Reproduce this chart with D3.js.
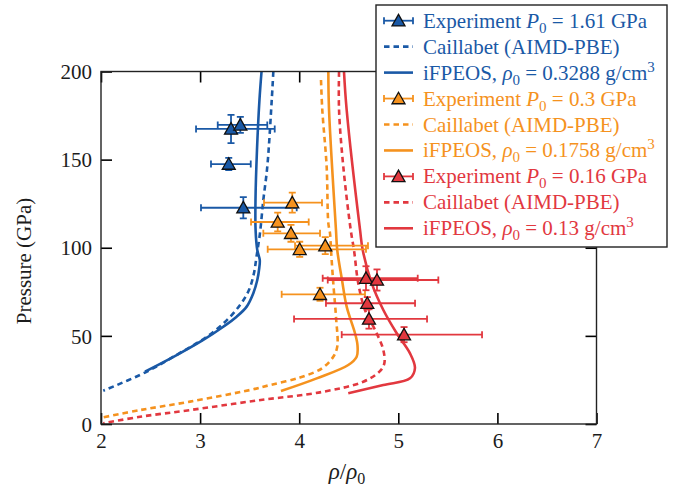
<!DOCTYPE html>
<html><head><meta charset="utf-8">
<script src="https://cdn.jsdelivr.net/npm/d3@7"></script>
<style>body{margin:0;background:#fff}svg{display:block;font-family:"Liberation Serif",serif}</style>
</head><body><svg id="c" width="680" height="489"></svg>
<script>
// ---- data ----
const xTicks = [2,3,4,5,6,7];
const yTicks = [0,50,100,150,200];
const seriesNames = ["blue","orange","red"];
const colors = ["#1a59a6","#f5921e","#e2383f"];
const legendLabels = [
  ["Experiment ", {i:"P"}, {sub:"0"}, " = 1.61 GPa"],
  ["Caillabet (AIMD-PBE)"],
  ["iFPEOS, ", {i:"ρ"}, {sub:"0"}, " = 0.3288 g/cm", {sup:"3"}],
  ["Experiment ", {i:"P"}, {sub:"0"}, " = 0.3 GPa"],
  ["Caillabet (AIMD-PBE)"],
  ["iFPEOS, ", {i:"ρ"}, {sub:"0"}, " = 0.1758 g/cm", {sup:"3"}],
  ["Experiment ", {i:"P"}, {sub:"0"}, " = 0.16 GPa"],
  ["Caillabet (AIMD-PBE)"],
  ["iFPEOS, ", {i:"ρ"}, {sub:"0"}, " = 0.13 g/cm", {sup:"3"}]
];
// experiments: x, y, xLow, xHigh, yErr
const expBlueX = [3.312,3.406,3.289,3.436];
const expBlueY = [167.4,169.7,147.5,122.7];
const expBlueXlo = [2.959,3.178,3.110,3.009];
const expBlueXhi = [3.753,3.678,3.511,3.975];
const expBlueYerr = [8,4.5,3.5,6];
const expOrangeX = [3.930,3.783,3.917,4.005,4.263,4.210];
const expOrangeY = [125.6,114.6,108.2,99.1,101.2,73.6];
const expOrangeXlo = [3.645,3.514,3.638,3.682,3.958,3.823];
const expOrangeXhi = [4.230,4.096,4.210,4.674,4.694,4.664];
const expOrangeYerr = [5.7,5.3,4.8,4.3,4.8,3.7];
const expRedX = [4.674,4.785,4.687,4.704,5.058];
const expRedY = [82.7,81.7,68.5,59.6,50.7];
const expRedXlo = [4.237,4.288,4.270,3.948,4.429];
const expRedXhi = [5.196,5.404,5.169,5.290,5.845];
const expRedYerr = [6.8,6,3.5,5.5,4.3];
// curves
const ifpBlueX = [3.620,3.599,3.574,3.559,3.560,3.577,3.602,3.597,3.577,3.537,3.470,3.369,3.234,3.032,2.764,2.444];
const ifpBlueY = [200,183.9,155.5,127.1,110,98.7,93.1,88.5,81.7,74.2,66.6,60.9,55.2,47.7,39.1,29.7];
const caiBlueX = [3.739,3.723,3.678,3.638,3.604,3.569,3.544,3.493,3.403,3.251,3.049,2.777,2.444,2.023];
const caiBlueY = [200,183.9,146.0,127.1,108.2,94.9,85.7,76.0,67.5,57.9,48.8,39.7,29.2,18.9];
const ifpOrangeX = [4.294,4.301,4.371,4.384,4.432,4.479,4.563,4.588,4.580,4.495,4.177,3.816];
const ifpOrangeY = [200,178.2,110.1,98.7,81.7,66.6,51.5,44.8,38.2,33.5,25.9,18.7];
const caiOrangeX = [4.220,4.233,4.277,4.294,4.311,4.321,4.344,4.371,4.384,4.344,4.230,4.008,3.705,3.504,2.898,2.394,2.023];
const caiOrangeY = [195.2,178.2,146.0,113.9,108.2,98.7,79.8,60.9,43.9,38.2,31.6,26.4,22.1,19.3,12.7,7.9,3.8];
const ifpRedX = [4.452,4.479,4.614,4.641,4.732,4.849,4.984,5.118,5.168,5.118,4.849,4.495];
const ifpRedY = [200,178.2,110.1,98.7,79.8,64.7,51.5,40.1,31.8,25.9,22.1,17.4];
const caiRedX = [4.402,4.402,4.445,4.520,4.553,4.596,4.664,4.782,4.849,4.859,4.815,4.647,4.243,3.571,2.898,2.394,2.023];
const caiRedY = [200,178.2,146.0,110.1,98.7,79.8,64.7,51.5,42.0,34.4,30.0,24.0,18.3,13.3,7.9,4.1,0.4];

// ---- layout ----
const L=101, R=596.5, T=71.5, B=424;
const FS=21, FF='"Liberation Serif", serif', TXT="#1c1c1c";
const x = d3.scaleLinear().domain([2,7]).range([L,R]);
const y = d3.scaleLinear().domain([0,200]).range([B,T]);
const svg = d3.select("#c");
const zip = (xs,ys)=>xs.map((v,i)=>[v,ys[i]]);
const line = d3.line().x(d=>x(d[0])).y(d=>y(d[1])).curve(d3.curveCatmullRom.alpha(0.5));

svg.append("defs").append("clipPath").attr("id","clip")
  .append("rect").attr("x",L).attr("y",T).attr("width",R-L).attr("height",B-T);
const plot = svg.append("g").attr("clip-path","url(#clip)");

const curves = [
  {x:caiBlueX,y:caiBlueY,c:0,dash:true},{x:ifpBlueX,y:ifpBlueY,c:0,dash:false},
  {x:caiOrangeX,y:caiOrangeY,c:1,dash:true},{x:ifpOrangeX,y:ifpOrangeY,c:1,dash:false},
  {x:caiRedX,y:caiRedY,c:2,dash:true},{x:ifpRedX,y:ifpRedY,c:2,dash:false}
];
curves.forEach(cv=>{
  plot.append("path").attr("d",line(zip(cv.x,cv.y))).attr("fill","none")
    .attr("stroke",colors[cv.c]).attr("stroke-width",2.6)
    .attr("stroke-dasharray",cv.dash?"5.5,4":null);
});

const tri = "M0,-6.3L6.5,5.2L-6.5,5.2Z";
const exps = [
  {x:expBlueX,y:expBlueY,lo:expBlueXlo,hi:expBlueXhi,ye:expBlueYerr,c:0},
  {x:expOrangeX,y:expOrangeY,lo:expOrangeXlo,hi:expOrangeXhi,ye:expOrangeYerr,c:1},
  {x:expRedX,y:expRedY,lo:expRedXlo,hi:expRedXhi,ye:expRedYerr,c:2}
];
const cap=3.5;
exps.forEach(e=>{
  const g = plot.append("g").attr("stroke",colors[e.c]).attr("stroke-width",1.8);
  e.x.forEach((xv,i)=>{
    const cx=x(xv), cy=y(e.y[i]), x1=x(e.lo[i]), x2=x(e.hi[i]), y1=y(e.y[i]+e.ye[i]), y2=y(e.y[i]-e.ye[i]);
    g.append("line").attr("x1",x1).attr("x2",x2).attr("y1",cy).attr("y2",cy);
    g.append("line").attr("x1",x1).attr("x2",x1).attr("y1",cy-cap).attr("y2",cy+cap);
    g.append("line").attr("x1",x2).attr("x2",x2).attr("y1",cy-cap).attr("y2",cy+cap);
    g.append("line").attr("x1",cx).attr("x2",cx).attr("y1",y1).attr("y2",y2);
    g.append("line").attr("x1",cx-cap).attr("x2",cx+cap).attr("y1",y1).attr("y2",y1);
    g.append("line").attr("x1",cx-cap).attr("x2",cx+cap).attr("y1",y2).attr("y2",y2);
  });
});
exps.forEach(e=>{
  e.x.forEach((xv,i)=>{
    plot.append("path").attr("d",tri).attr("transform",`translate(${x(xv)},${y(e.y[i])})`)
      .attr("fill",colors[e.c]).attr("stroke","#111").attr("stroke-width",1.3).attr("stroke-linejoin","miter");
  });
});

// ---- axes ----
const tl=11;
const axB = svg.append("g").attr("transform",`translate(0,${B})`)
  .call(d3.axisBottom(x).tickValues(xTicks).tickSize(-tl).tickPadding(9).tickFormat(d3.format("d")));
const axT = svg.append("g").attr("transform",`translate(0,${T})`)
  .call(d3.axisTop(x).tickValues(xTicks).tickSize(-tl).tickFormat(""));
const axL = svg.append("g").attr("transform",`translate(${L},0)`)
  .call(d3.axisLeft(y).tickValues(yTicks).tickSize(-tl).tickPadding(9).tickFormat(d3.format("d")));
const axR = svg.append("g").attr("transform",`translate(${R},0)`)
  .call(d3.axisRight(y).tickValues(yTicks).tickSize(-tl).tickFormat(""));
[axB,axT,axL,axR].forEach(a=>{
  a.attr("font-family",FF).attr("font-size",FS).style("font-family",FF);
  a.selectAll(".domain").remove();
  a.selectAll(".tick line").attr("stroke","#000").attr("stroke-width",1.6);
  a.selectAll("text").attr("font-family",FF).style("font-family",FF).style("font-size",FS+"px").attr("fill",TXT);
});
axL.selectAll("text").attr("dy","0.34em");
svg.append("rect").attr("x",L).attr("y",T).attr("width",R-L).attr("height",B-T)
  .attr("fill","none").attr("stroke","#222").attr("stroke-width",1.4);

// axis labels
svg.append("text").attr("transform",`translate(31,261) rotate(-90)`).attr("text-anchor","middle")
  .attr("fill",TXT).attr("font-family",FF).style("font-family",FF).style("font-size",FS+"px").text("Pressure (GPa)");
const xl = svg.append("text").attr("x",347).attr("y",479).attr("text-anchor","middle").attr("fill",TXT)
  .attr("font-family",FF).style("font-family",FF).style("font-size","23px");
xl.append("tspan").attr("font-style","italic").text("ρ");
xl.append("tspan").text("/");
xl.append("tspan").attr("font-style","italic").text("ρ");
xl.append("tspan").style("font-size","16px").attr("dy",5).text("0");

// ---- legend ----
const lg = svg.append("g");
lg.append("rect").attr("x",376).attr("y",5).attr("width",291).attr("height",242)
  .attr("fill","#fff").attr("stroke","#222").attr("stroke-width",1.4);
legendLabels.forEach((parts,i)=>{
  const cy = 20.7 + i*25.95;
  const c = colors[Math.floor(i/3)];
  const kind = i%3;
  if(kind===0){
    const g = lg.append("g").attr("stroke",c).attr("stroke-width",1.8);
    g.append("line").attr("x1",384).attr("x2",413).attr("y1",cy).attr("y2",cy);
    g.append("line").attr("x1",384).attr("x2",384).attr("y1",cy-cap).attr("y2",cy+cap);
    g.append("line").attr("x1",413).attr("x2",413).attr("y1",cy-cap).attr("y2",cy+cap);
    lg.append("path").attr("d",tri).attr("transform",`translate(398.5,${cy})`)
      .attr("fill",c).attr("stroke","#111").attr("stroke-width",1.3);
  } else {
    lg.append("line").attr("x1",384).attr("x2",413).attr("y1",cy).attr("y2",cy)
      .attr("stroke",c).attr("stroke-width",2.6).attr("stroke-dasharray",kind===1?"5.5,4":null);
  }
  const t = lg.append("text").attr("x",423).attr("y",cy+7).attr("font-family",FF).style("font-family",FF)
    .style("font-size",FS+"px").attr("fill",c);
  let shift=0;
  parts.forEach(p=>{
    if(typeof p==="string"){ t.append("tspan").attr("dy",-shift).text(p); shift=0; }
    else if(p.i){ t.append("tspan").attr("dy",-shift).attr("font-style","italic").text(p.i); shift=0; }
    else if(p.sub){ t.append("tspan").attr("dy",5-shift).style("font-size","15px").text(p.sub); shift=5; }
    else if(p.sup){ t.append("tspan").attr("dy",-8-shift).style("font-size","15px").text(p.sup); shift=-8; }
  });
});
</script></body></html>
